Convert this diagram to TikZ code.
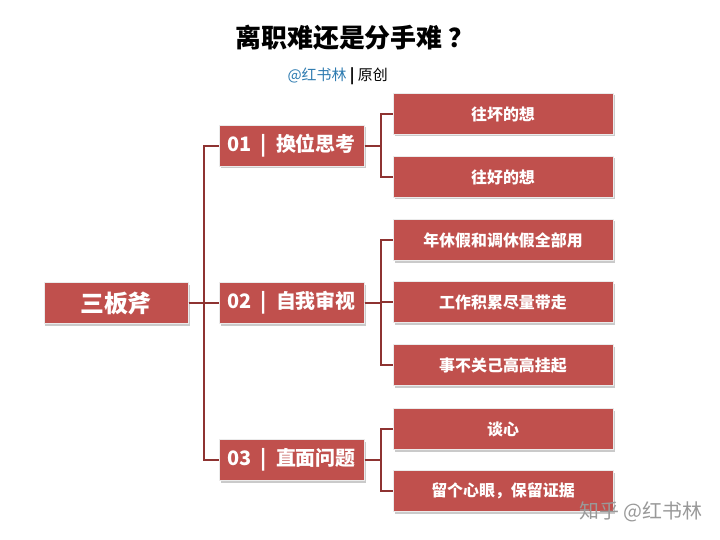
\documentclass[tikz,border=0pt]{standalone}
\usepackage{fontspec}
\setmainfont{Noto Sans CJK SC}
\usetikzlibrary{shadows}
\definecolor{boxred}{HTML}{C0504D}
\definecolor{linkred}{HTML}{8E3331}
\definecolor{nameblue}{HTML}{2E7BB0}
\begin{document}
\begin{tikzpicture}[x=1bp,y=-1bp,
    box/.style={fill=boxred, draw=white!92!black, line width=1pt,
      drop shadow={shadow xshift=1.5bp, shadow yshift=-2bp, fill=black!35, opacity=0.6},
      text=white, font=\bfseries, inner sep=0pt},
    rootbox/.style={box, minimum width=144bp, minimum height=41bp, font=\bfseries\fontsize{24}{28}\selectfont},
    topicbox/.style={box, minimum width=145bp, minimum height=41bp, font=\bfseries\fontsize{20}{24}\selectfont},
    leafbox/.style={box, minimum width=220bp, minimum height=41bp, font=\bfseries\fontsize{16}{19}\selectfont},
    link/.style={draw=linkred, line width=2bp}]
    \useasboundingbox (0,0) rectangle (720,540);

    % Title and author line
    \node[font=\bfseries\fontsize{26}{30}\selectfont] (title) at (355,38) {离职难还是分手难 ？};
    \node[font=\fontsize{15}{18}\selectfont, anchor=west] (author) at (284,76)
      {\textcolor{nameblue}{@红书林}\ \textbf{|}\ 原创};

    % Root and topics
    \node[rootbox] (root) at (116,303) {三板斧};
    \node[topicbox] (t1) at (291.5,146) {01\ \ |\ \ 换位思考};
    \node[topicbox] (t2) at (291.5,303) {02\ \ |\ \ 自我审视};
    \node[topicbox] (t3) at (291.5,460) {03\ \ |\ \ 直面问题};

    % Leaves
    \node[leafbox] (a1) at (503,114) {往坏的想};
    \node[leafbox] (a2) at (503,177) {往好的想};
    \node[leafbox] (b1) at (503,240) {年休假和调休假全部用};
    \node[leafbox] (b2) at (503,302) {工作积累尽量带走};
    \node[leafbox] (b3) at (503,365) {事不关己高高挂起};
    \node[leafbox] (c1) at (503,429) {谈心};
    \node[leafbox] (c2) at (503,491) {留个心眼，保留证据};

    % Connectors
    \foreach \t in {t1,t2,t3}
        \draw[link] (root.east) -- ++(15,0) |- (\t.west);
    \foreach \a in {a1,a2}
        \draw[link] (t1.east) -- ++(16,0) |- (\a.west);
    \foreach \b in {b1,b2,b3}
        \draw[link] (t2.east) -- ++(16,0) |- (\b.west);
    \foreach \c in {c1,c2}
        \draw[link] (t3.east) -- ++(16,0) |- (\c.west);

    % Watermark
    \node[text=black!40, font=\fontsize{20}{24}\selectfont, anchor=east] (mark) at (706,512) {知乎\ @红书林};
\end{tikzpicture}
\end{document}
